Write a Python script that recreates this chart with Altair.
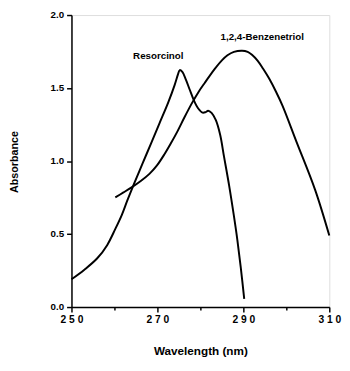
import altair as alt
import pandas as pd

res_x = [250, 253.0, 256.0, 258.3, 260.2, 261.7, 263.0, 264.5, 266.5, 268.5, 270.5, 272.5, 274.0, 274.8, 275.2, 275.8, 276.6, 277.5, 278.5, 279.5, 280.5, 281.2, 281.8, 282.6, 283.6, 284.6, 285.5, 286.7, 287.8, 288.6, 289.4, 290.2]
res_y = [0.19, 0.256, 0.334, 0.424, 0.535, 0.63, 0.73, 0.84, 0.98, 1.12, 1.26, 1.40, 1.52, 1.595, 1.623, 1.61, 1.56, 1.49, 1.415, 1.36, 1.332, 1.335, 1.345, 1.33, 1.28, 1.18, 1.03, 0.83, 0.624, 0.46, 0.27, 0.056]

ben_x = [260.2, 262.1, 263.9, 266.2, 268.2, 269.9, 271.6, 273.1, 274.6, 276.3, 278.1, 279.5, 281.0, 283.3, 285.0, 286.3, 287.8, 289.7, 291.0, 292.0, 293.3, 294.6, 296.0, 297.6, 299.1, 302.3, 306.7, 310.0]
ben_y = [0.751, 0.785, 0.818, 0.865, 0.914, 0.97, 1.045, 1.12, 1.20, 1.30, 1.40, 1.47, 1.535, 1.63, 1.69, 1.725, 1.748, 1.756, 1.748, 1.728, 1.688, 1.632, 1.565, 1.475, 1.38, 1.137, 0.803, 0.49]

label_text = ["Resorcinol", "1,2,4-Benzenetriol"]
label_x = [270.2, 294.4]
label_y = [1.72, 1.846]

df = pd.concat([
    pd.DataFrame({"wl": res_x, "abs": res_y, "series": "Resorcinol"}),
    pd.DataFrame({"wl": ben_x, "abs": ben_y, "series": "1,2,4-Benzenetriol"}),
])
lab = pd.DataFrame({"t": label_text, "wl": label_x, "abs": label_y})

font = "Liberation Sans"

x_axis = alt.Axis(
    values=[250, 260, 270, 280, 290, 300, 310],
    labelExpr="datum.value % 20 == 10 ? (substring(datum.label,0,1) + ' ' + substring(datum.label,1,2) + ' ' + substring(datum.label,2,3)) : ''",
    tickSize={"condition": {"test": "datum.value % 20 == 0", "value": 3}, "value": 5},
    labelFont=font, labelFontWeight="bold", labelFontSize=10.5, labelColor="black",
    labelPadding=3, tickColor="black", domainColor="black", domainWidth=1.5, tickWidth=1.5,
    grid=False, title="Wavelength (nm)", titleFont=font, titleFontWeight="bold",
    titleFontSize=12, titleColor="black", titleX=132, titleY=45, titleBaseline="middle",
    titleAlign="center", labelFlush=False, labelOverlap=False,
)
y_axis = alt.Axis(
    values=[0, 0.25, 0.5, 0.75, 1.0, 1.25, 1.5, 1.75, 2.0],
    labelExpr="(datum.value * 4) % 2 == 0 ? format(datum.value, '.1f') : ''",
    tickSize={"condition": {"test": "(datum.value * 4) % 2 == 1", "value": 3}, "value": 5},
    labelFont=font, labelFontWeight="bold", labelFontSize=10, labelColor="black",
    labelPadding=3, tickColor="black", domainColor="black", domainWidth=1.5, tickWidth=1.5,
    grid=False, title="Absorbance", titleFont=font, titleFontWeight="bold",
    titleFontSize=11, titleColor="black", titleAngle=-90, titleX=-58, titleY=150,
    titleBaseline="middle", titleAlign="center", labelFlush=False, labelOverlap=False,
)

xs = alt.Scale(domain=[250, 310], nice=False, zero=False)
ys = alt.Scale(domain=[0, 2], nice=False)

lines = alt.Chart(df).mark_line(color="black", strokeWidth=2, interpolate="catmull-rom").encode(
    x=alt.X("wl:Q", scale=xs, axis=x_axis),
    y=alt.Y("abs:Q", scale=ys, axis=y_axis),
    detail="series:N",
)

texts = alt.Chart(lab).mark_text(font=font, fontWeight="bold", fontSize=10, color="black").encode(
    x=alt.X("wl:Q", scale=xs),
    y=alt.Y("abs:Q", scale=ys),
    text="t:N",
)

chart = alt.layer(lines, texts).properties(
    width=264, height=299,
    autosize=alt.AutoSizeParams(type="none"),
    padding={"left": 65, "top": 3, "right": 13, "bottom": 50},
).configure_view(stroke="black", strokeWidth=1.5).configure(background="white")

chart.save("out.html", embed_options={"renderer": "svg", "actions": False})
